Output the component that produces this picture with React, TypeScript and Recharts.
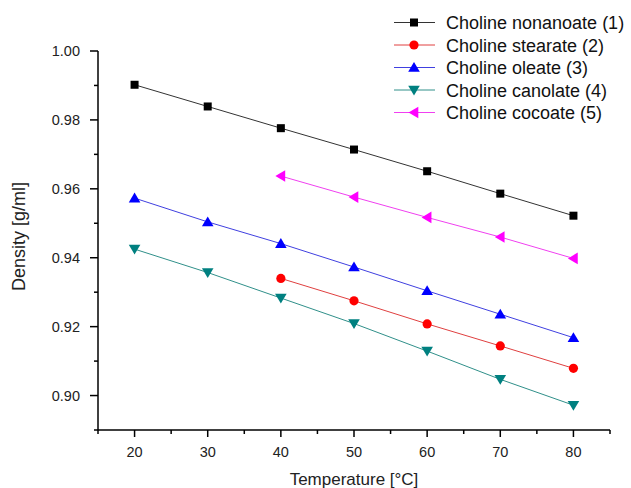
import React from 'react';
import { LineChart, Line, XAxis, YAxis, Legend, Label } from 'recharts';

const temperatures = [20, 30, 40, 50, 60, 70, 80];
const nonanoate = [0.9902, 0.9839, 0.9776, 0.9714, 0.9651, 0.9586, 0.9522];
const stearate = [null, null, 0.934, 0.9275, 0.9208, 0.9144, 0.9079];
const oleate = [0.9573, 0.9504, 0.9441, 0.9373, 0.9304, 0.9236, 0.9168];
const canolate = [0.9425, 0.9357, 0.9283, 0.9209, 0.9129, 0.9047, 0.8972];
const cocoate = [null, null, 0.9637, 0.9576, 0.9517, 0.946, 0.9398];

const seriesNames = [
  'Choline nonanoate (1)',
  'Choline stearate (2)',
  'Choline oleate (3)',
  'Choline canolate (4)',
  'Choline cocoate (5)',
];
const seriesKeys = ['s1', 's2', 's3', 's4', 's5'];
const seriesColors = ['#000000', '#ff0000', '#0000ff', '#008080', '#ff00ff'];
const lineColors = ['#333333', '#e04040', '#4040e0', '#30908a', '#f040f0'];
const seriesShapes = ['square', 'circle', 'up', 'down', 'left'];

const xTicks = [15, 20, 25, 30, 35, 40, 45, 50, 55, 60, 65, 70, 75, 80, 85];
const yTicks = [0.89, 0.9, 0.91, 0.92, 0.93, 0.94, 0.95, 0.96, 0.97, 0.98, 0.99, 1.0];

const data = temperatures.map((t, i) => ({
  t,
  s1: nonanoate[i],
  s2: stearate[i],
  s3: oleate[i],
  s4: canolate[i],
  s5: cocoate[i],
}));

const FONT = '"Liberation Sans", Arial, sans-serif';

function Marker({ shape, cx, cy, color }: { shape: string; cx: number; cy: number; color: string }) {
  if (cx == null || cy == null || isNaN(cx) || isNaN(cy)) return null;
  switch (shape) {
    case 'square':
      return <rect x={cx - 4} y={cy - 4} width={8} height={8} fill={color} />;
    case 'circle':
      return <circle cx={cx} cy={cy} r={4.6} fill={color} />;
    case 'up':
      return <polygon points={`${cx},${cy - 5.5} ${cx - 5.8},${cy + 4.3} ${cx + 5.8},${cy + 4.3}`} fill={color} />;
    case 'down':
      return <polygon points={`${cx - 5.8},${cy - 4.3} ${cx + 5.8},${cy - 4.3} ${cx},${cy + 5.5}`} fill={color} />;
    case 'left':
      return <polygon points={`${cx - 5.5},${cy} ${cx + 4.3},${cy - 5.8} ${cx + 4.3},${cy + 5.8}`} fill={color} />;
    default:
      return null;
  }
}

const XTick = (props: any) => {
  const { x, y, payload } = props;
  const v = payload.value;
  const major = Math.round(v) % 10 === 0;
  return (
    <g>
      <line x1={x} x2={x} y1={y} y2={y + (major ? 7 : 4)} stroke="#000" strokeWidth={1.5} />
      {major && (
        <text x={x} y={y + 27} textAnchor="middle" fontSize={14.5} fill="#222" fontFamily={FONT}>
          {v}
        </text>
      )}
    </g>
  );
};

const YTick = (props: any) => {
  const { x, y, payload } = props;
  const v = payload.value;
  const major = Math.round(v * 100) % 2 === 0;
  return (
    <g>
      <line x1={x - (major ? 8 : 4)} x2={x} y1={y} y2={y} stroke="#000" strokeWidth={1.5} />
      {major && (
        <text x={x - 18} y={y + 5.3} textAnchor="end" fontSize={14.5} fill="#222" fontFamily={FONT}>
          {v.toFixed(2)}
        </text>
      )}
    </g>
  );
};

const LegendContent = () => (
  <svg width={246} height={125} style={{ display: 'block' }}>
    {seriesNames.map((name, i) => {
      const cy = 12.5 + 22.5 * i;
      return (
        <g key={name}>
          <line x1={9} x2={50} y1={cy} y2={cy} stroke={lineColors[i]} strokeWidth={1} />
          <Marker shape={seriesShapes[i]} cx={29} cy={cy} color={seriesColors[i]} />
          <text x={61} y={cy + 6.5} fontSize={18} fill="#111" fontFamily={FONT}>
            {name}
          </text>
        </g>
      );
    })}
  </svg>
);

export default function App() {
  return (
    <div style={{ position: 'absolute', left: 0, top: 0, width: 631, height: 488, background: '#fff' }}>
      <LineChart width={631} height={488} data={data} margin={{ top: 51, right: 21, left: 0, bottom: 0 }}>
        <XAxis
          dataKey="t"
          type="number"
          domain={[15, 85]}
          ticks={xTicks}
          interval={0}
          height={58}
          tickSize={0}
          tickMargin={0}
          tickLine={false}
          tick={<XTick />}
          axisLine={{ stroke: '#000', strokeWidth: 1.5 }}
        >
          <Label
            content={(p: any) => {
              const vb = p.viewBox || { x: 98, y: 430, width: 512, height: 58 };
              return (
                <text x={vb.x + vb.width / 2} y={vb.y + 55} textAnchor="middle" fontSize={17} fill="#222" fontFamily={FONT}>
                  Temperature [°C]
                </text>
              );
            }}
          />
        </XAxis>
        <YAxis
          type="number"
          domain={[0.89, 1.0]}
          ticks={yTicks}
          interval={0}
          width={98}
          tickSize={0}
          tickMargin={0}
          tickLine={false}
          tick={<YTick />}
          axisLine={{ stroke: '#000', strokeWidth: 1.5 }}
        >
          <Label
            content={(p: any) => {
              const vb = p.viewBox || { x: 0, y: 51, width: 98, height: 379 };
              const cx = vb.x + 25;
              const cy = vb.y + vb.height / 2 - 4;
              return (
                <text
                  x={cx}
                  y={cy}
                  transform={`rotate(-90 ${cx} ${cy})`}
                  textAnchor="middle"
                  fontSize={18}
                  fill="#222"
                  fontFamily={FONT}
                >
                  Density [g/ml]
                </text>
              );
            }}
          />
        </YAxis>
        <Legend
          layout="vertical"
          align="center"
          verticalAlign="middle"
          wrapperStyle={{ top: 10, left: 385, width: 246, height: 125 }}
          content={() => <LegendContent />}
        />
        {seriesKeys.map((k, i) => (
          <Line
            key={k}
            dataKey={k}
            name={seriesNames[i]}
            stroke={lineColors[i]}
            strokeWidth={1}
            isAnimationActive={false}
            dot={(p: any) => <Marker key={`${k}-${p.index}`} shape={seriesShapes[i]} cx={p.cx} cy={p.cy} color={seriesColors[i]} />}
            activeDot={false}
          />
        ))}
      </LineChart>
    </div>
  );
}
